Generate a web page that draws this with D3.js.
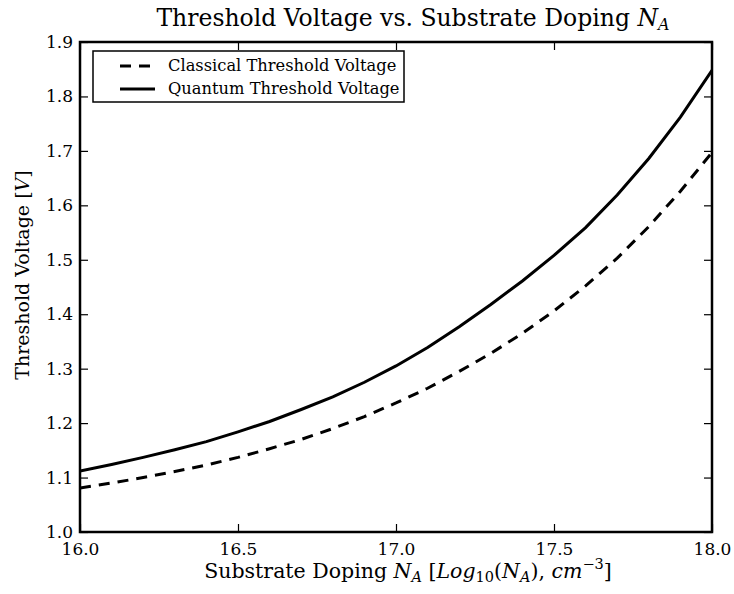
<!DOCTYPE html>
<html>
<head>
  <meta charset="utf-8">
  <script src="https://d3js.org/d3.v7.min.js"></script>
  <style>
    body { margin: 0; background: #fff; }
    text { font-family: "DejaVu Serif", "Liberation Serif", serif; fill: #000; }
  </style>
</head>
<body>
<div id="chart"></div>
<script>
  // data (log10 of doping, volts)
  const doping = [16.0, 16.1, 16.2, 16.3, 16.4, 16.5, 16.6, 16.7, 16.8, 16.9, 17.0,
                  17.1, 17.2, 17.3, 17.4, 17.5, 17.6, 17.7, 17.8, 17.9, 18.0];
  const classical = [1.081, 1.090, 1.100, 1.111, 1.123, 1.137, 1.153, 1.170, 1.190, 1.212, 1.237,
                     1.264, 1.295, 1.328, 1.365, 1.406, 1.452, 1.503, 1.561, 1.626, 1.697];
  const quantum = [1.112, 1.124, 1.137, 1.151, 1.166, 1.184, 1.203, 1.225, 1.248, 1.275, 1.305,
                   1.339, 1.377, 1.418, 1.461, 1.508, 1.559, 1.619, 1.686, 1.762, 1.848];
  const xTicks = [16.0, 16.5, 17.0, 17.5, 18.0];
  const yTicks = [1.0, 1.1, 1.2, 1.3, 1.4, 1.5, 1.6, 1.7, 1.8, 1.9];

  const W = 734, H = 594;
  const margin = { top: 42, right: 22, bottom: 62, left: 80 };
  const width = W - margin.left - margin.right,
        height = H - margin.top - margin.bottom;

  const svg = d3.select("#chart").append("svg")
    .attr("width", W).attr("height", H);
  const g = svg.append("g")
    .attr("transform", `translate(${margin.left},${margin.top})`);

  const x = d3.scaleLinear().domain([16, 18]).range([0, width]);
  const y = d3.scaleLinear().domain([1.0, 1.9]).range([height, 0]);

  // axes with inward ticks on all four sides
  const tickLen = 8;
  const styleAxis = sel => {
    sel.select(".domain").remove();
    sel.selectAll("line").attr("stroke", "#000").attr("stroke-width", 1.2);
    sel.selectAll("text").style("font-size", "17px");
  };
  g.append("g").attr("transform", `translate(0,${height})`)
    .call(d3.axisBottom(x).tickValues(xTicks).tickFormat(d3.format(".1f"))
      .tickSizeInner(-tickLen).tickSizeOuter(0).tickPadding(11))
    .call(styleAxis);
  g.append("g")
    .call(d3.axisTop(x).tickValues(xTicks).tickFormat("")
      .tickSizeInner(-tickLen).tickSizeOuter(0))
    .call(styleAxis);
  g.append("g")
    .call(d3.axisLeft(y).tickValues(yTicks).tickFormat(d3.format(".1f"))
      .tickSizeInner(-tickLen).tickSizeOuter(0).tickPadding(7))
    .call(styleAxis);
  g.append("g").attr("transform", `translate(${width},0)`)
    .call(d3.axisRight(y).tickValues(yTicks).tickFormat("")
      .tickSizeInner(-tickLen).tickSizeOuter(0))
    .call(styleAxis);

  // clip lines to the frame
  g.append("clipPath").attr("id", "clip")
    .append("rect").attr("width", width).attr("height", height);

  const line = d3.line().x((d, i) => x(doping[i])).y(d => y(d));

  g.append("path").datum(classical)
    .attr("clip-path", "url(#clip)")
    .attr("fill", "none").attr("stroke", "#000").attr("stroke-width", 3)
    .attr("stroke-dasharray", "11,8")
    .attr("d", line);
  g.append("path").datum(quantum)
    .attr("clip-path", "url(#clip)")
    .attr("fill", "none").attr("stroke", "#000").attr("stroke-width", 3)
    .attr("d", line);

  // frame
  g.append("rect").attr("width", width).attr("height", height)
    .attr("fill", "none").attr("stroke", "#000").attr("stroke-width", 2.5);

  // legend
  const legend = g.append("g").attr("transform", "translate(13,9)");
  legend.append("rect").attr("width", 311).attr("height", 51)
    .attr("fill", "#fff").attr("stroke", "#000").attr("stroke-width", 1.5);
  const items = [
    { label: "Classical Threshold Voltage", dash: "11,8" },
    { label: "Quantum Threshold Voltage", dash: null }
  ];
  items.forEach((it, i) => {
    const yy = 15 + i * 23;
    legend.append("line").attr("x1", 27).attr("x2", 62).attr("y1", yy).attr("y2", yy)
      .attr("stroke", "#000").attr("stroke-width", 3)
      .attr("stroke-dasharray", it.dash);
    legend.append("text").attr("x", 75).attr("y", yy + 5)
      .style("font-size", "16.3px").text(it.label);
  });

  // title
  const title = svg.append("text")
    .attr("x", 413).attr("y", 26)
    .attr("text-anchor", "middle").style("font-size", "23.5px");
  title.append("tspan").text("Threshold Voltage vs. Substrate Doping ");
  title.append("tspan").style("font-style", "italic").text("N");
  title.append("tspan").style("font-style", "italic").style("font-size", "16px")
    .attr("dy", 4).text("A");

  // x label
  const xl = svg.append("text")
    .attr("x", 408).attr("y", 578)
    .attr("text-anchor", "middle").style("font-size", "20.5px");
  xl.append("tspan").text("Substrate Doping ");
  xl.append("tspan").style("font-style", "italic").text("N");
  xl.append("tspan").style("font-style", "italic").style("font-size", "14.5px").attr("dy", 4).text("A");
  xl.append("tspan").attr("dy", -4).text(" [");
  xl.append("tspan").style("font-style", "italic").text("Log");
  xl.append("tspan").style("font-size", "14.5px").attr("dy", 4).text("10");
  xl.append("tspan").attr("dy", -4).text("(");
  xl.append("tspan").style("font-style", "italic").text("N");
  xl.append("tspan").style("font-style", "italic").style("font-size", "14.5px").attr("dy", 4).text("A");
  xl.append("tspan").attr("dy", -4).text("), ");
  xl.append("tspan").style("font-style", "italic").text("cm");
  xl.append("tspan").style("font-size", "14.5px").attr("dy", -9).text("\u22123");
  xl.append("tspan").attr("dy", 9).text("]");

  // y label
  const yl = svg.append("text")
    .attr("transform", "translate(29,275) rotate(-90)")
    .attr("text-anchor", "middle").style("font-size", "19px");
  yl.append("tspan").text("Threshold Voltage [");
  yl.append("tspan").style("font-style", "italic").text("V");
  yl.append("tspan").text("]");
</script>
</body>
</html>
